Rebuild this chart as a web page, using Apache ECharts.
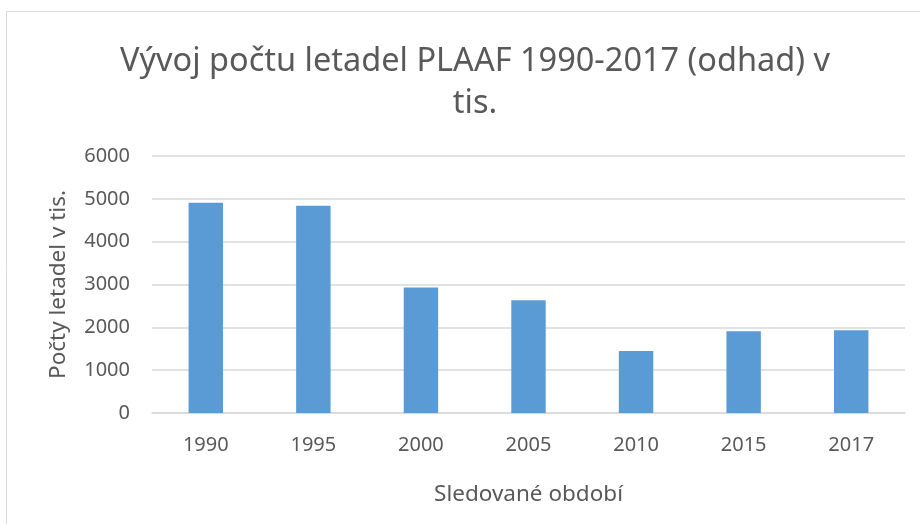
<!DOCTYPE html>
<html>
<head>
<meta charset="utf-8">
<script src="https://cdn.jsdelivr.net/npm/echarts@6/dist/echarts.min.js"></script>
<style>
  html, body { margin: 0; padding: 0; background: #fff; }
  #chart { width: 920px; height: 524px; }
</style>
</head>
<body>
<div id="chart"></div>
<script>
// roky a odhadovane pocty letadel
var years = ['1990', '1995', '2000', '2005', '2010', '2015', '2017'];
var planes = [4910, 4840, 2930, 2630, 1450, 1910, 1930];
var yTicks = [0, 1000, 2000, 3000, 4000, 5000, 6000];

var chart = echarts.init(document.getElementById('chart'));
var font = '"Noto Sans", sans-serif';
var grey = '#595959';

var option = {
    animation: false,
    backgroundColor: '#fff',
    title: {
        text: 'Vývoj počtu letadel PLAAF 1990-2017 (odhad) v\ntis.',
        left: 470,
        top: 36,
        textAlign: 'center',
        textStyle: {
            color: grey,
            fontFamily: font,
            fontWeight: 'normal',
            fontSize: 32.5,
            lineHeight: 42
        }
    },
    graphic: [{
        type: 'rect',
        shape: { x: 6.5, y: 11.5, width: 1000, height: 1000 },
        style: { fill: 'none', stroke: '#d9d9d9', lineWidth: 1 },
        silent: true
    }],
    grid: {
        left: 152,
        right: 15,
        top: 156,
        bottom: 111
    },
    xAxis: {
        type: 'category',
        data: years,
        name: 'Sledované období',
        nameLocation: 'middle',
        nameGap: 70,
        nameTextStyle: { color: grey, fontFamily: font, fontSize: 22.5 },
        axisLine: { lineStyle: { color: '#d9d9d9', width: 1.5 } },
        axisTick: { show: false },
        axisLabel: { color: grey, fontFamily: font, fontSize: 20, margin: 22 }
    },
    yAxis: {
        type: 'value',
        min: yTicks[0],
        max: yTicks[yTicks.length - 1],
        interval: 1000,
        name: 'Počty letadel v tis.',
        nameLocation: 'middle',
        nameGap: 82,
        nameTextStyle: { color: grey, fontFamily: font, fontSize: 22.5 },
        axisLine: { show: false },
        axisTick: { show: false },
        axisLabel: {
            color: grey, fontFamily: font, fontSize: 20, margin: 22,
            formatter: function (v) { return String(v); }
        },
        splitLine: { lineStyle: { color: '#d9d9d9', width: 1.5 } }
    },
    series: [{
        type: 'bar',
        data: planes,
        barCategoryGap: '68%',
        itemStyle: { color: '#5b9bd5' }
    }]
};

chart.setOption(option);
</script>
</body>
</html>
